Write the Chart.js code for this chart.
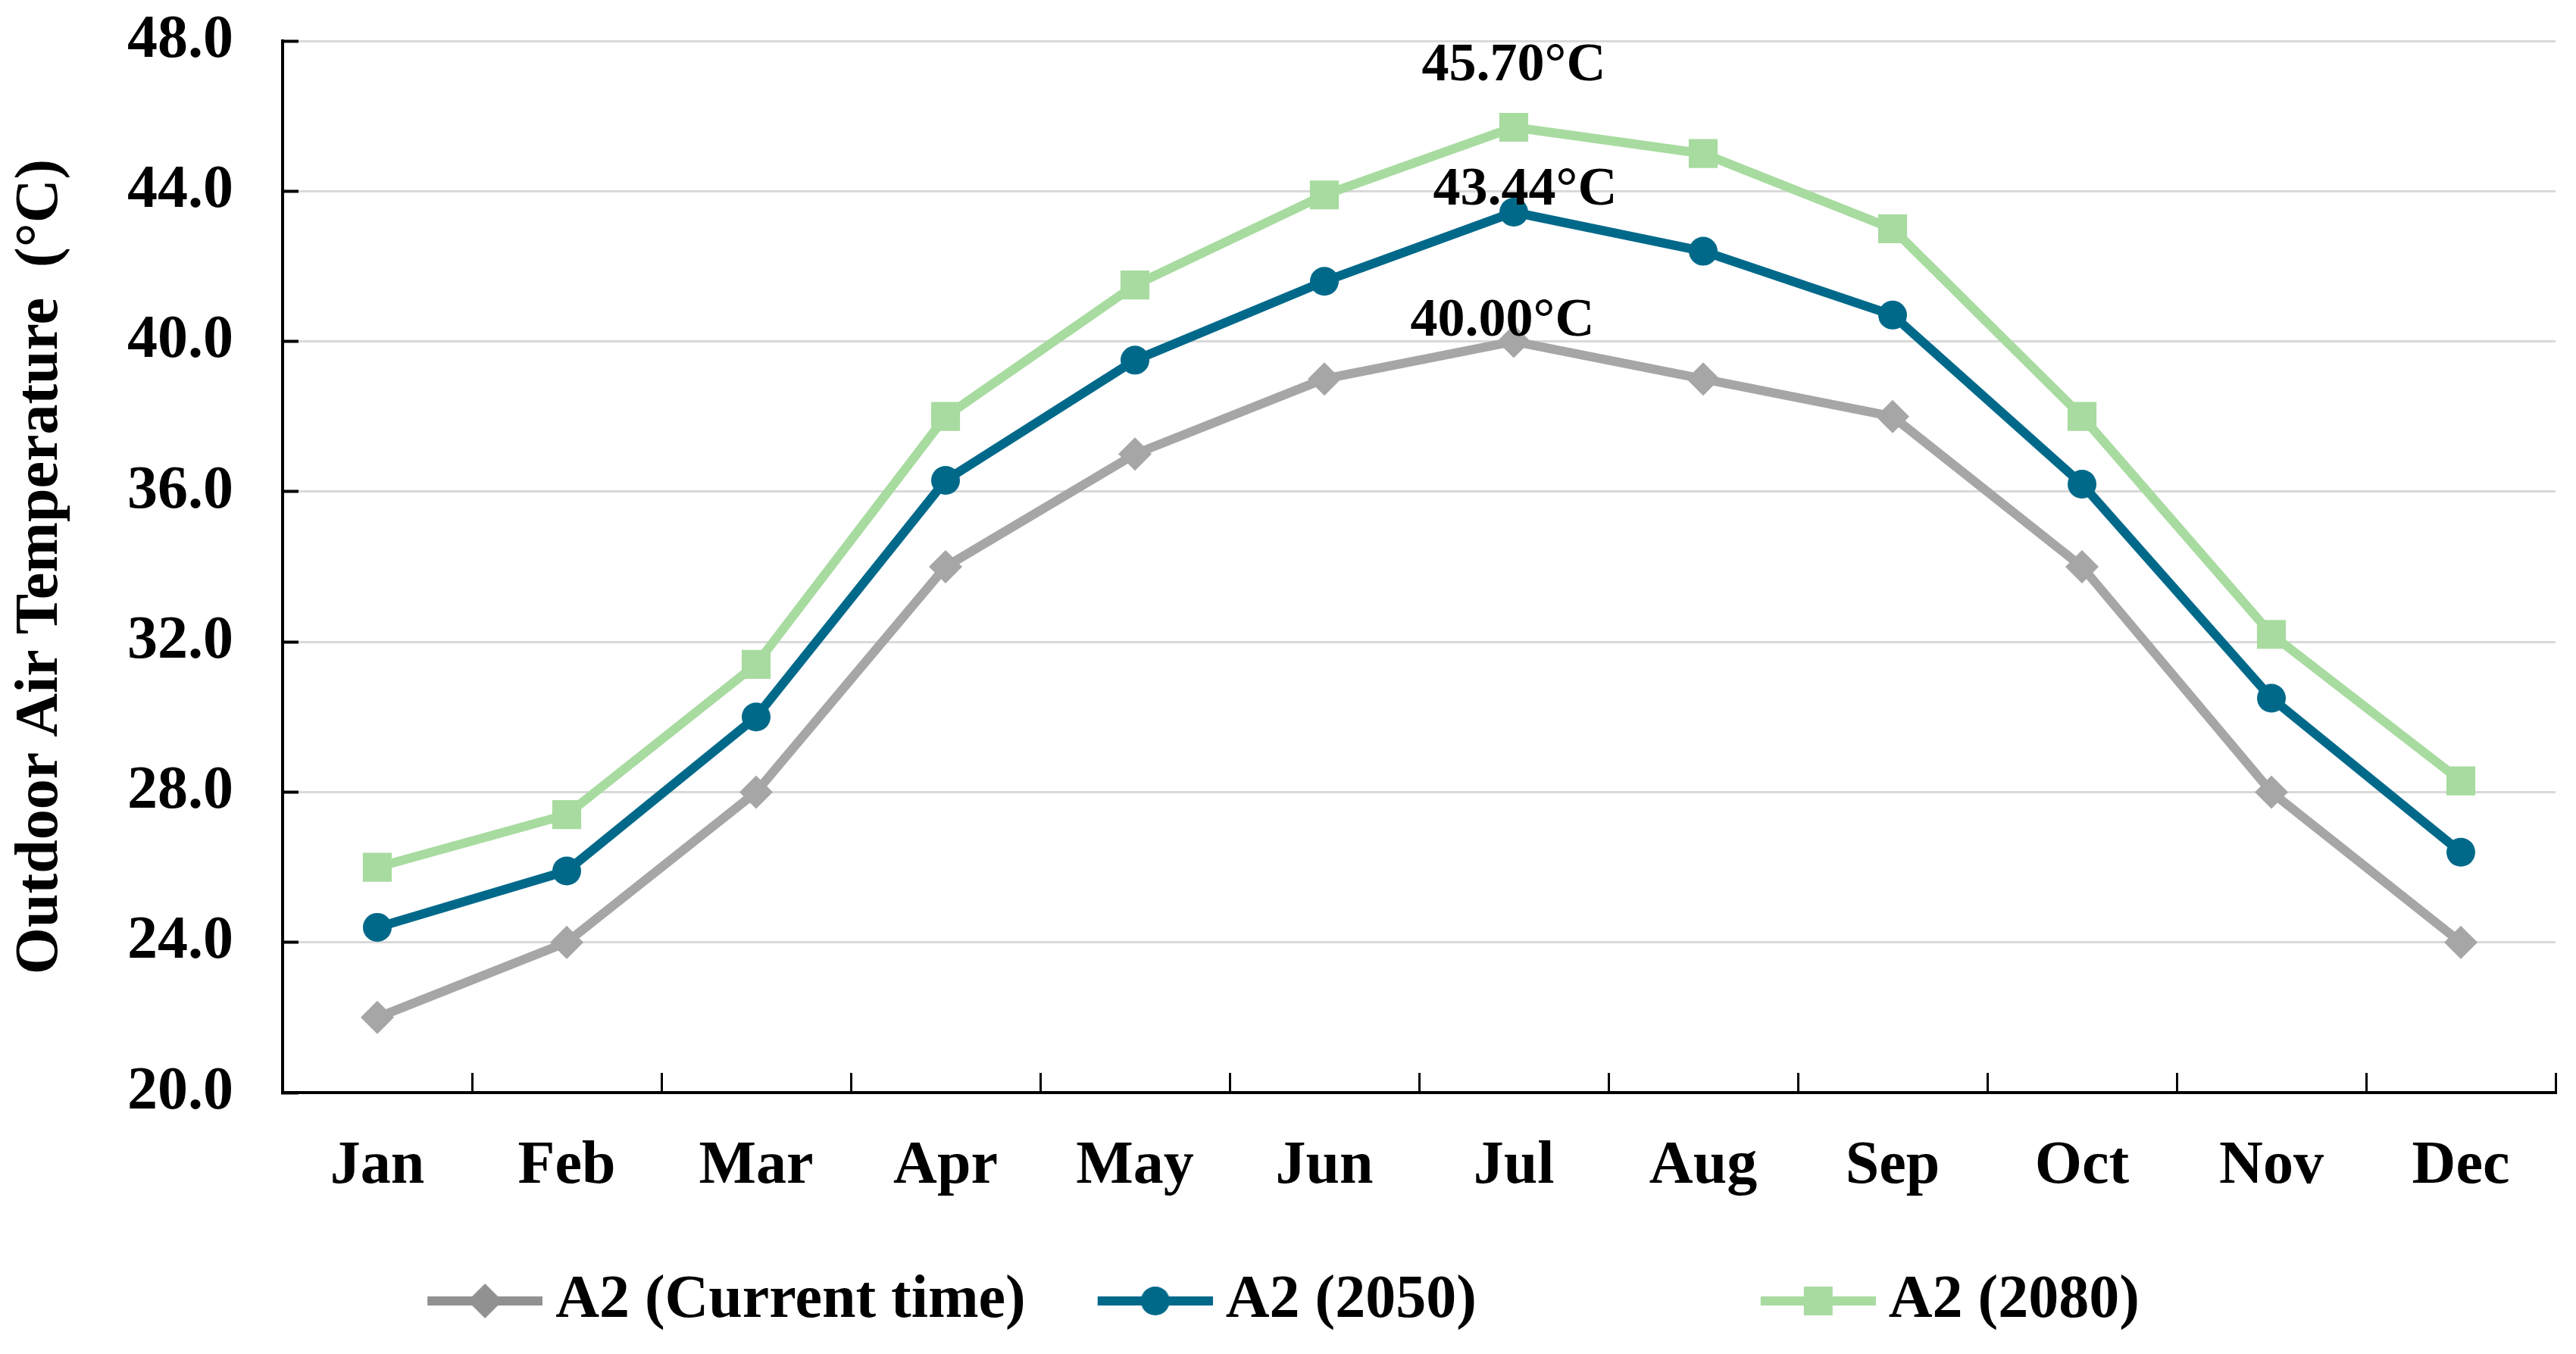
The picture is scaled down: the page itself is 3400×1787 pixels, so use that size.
<!DOCTYPE html>
<html>
<head>
<meta charset="utf-8">
<script src="https://cdn.jsdelivr.net/npm/chart.js@4.4.1/dist/chart.umd.min.js"></script>
<style>
  html, body { margin: 0; padding: 0; background: #fff; }
</style>
</head>
<body>
<canvas id="temp-chart-canvas" width="3400" height="1787"></canvas>
<script>
// Data
const months = ["Jan", "Feb", "Mar", "Apr", "May", "Jun", "Jul", "Aug", "Sep", "Oct", "Nov", "Dec"];
const currentTime = [22.0, 24.0, 28.0, 34.0, 37.0, 39.0, 40.0, 39.0, 38.0, 34.0, 28.0, 24.0];
const a2050 = [24.4, 25.9, 30.0, 36.3, 39.5, 41.6, 43.44, 42.4, 40.7, 36.2, 30.5, 26.4];
const a2080 = [26.0, 27.4, 31.4, 38.0, 41.5, 43.9, 45.7, 45.0, 43.0, 38.0, 32.2, 28.3];
const seriesNames = ["A2 (Current time)", "A2 (2050)", "A2 (2080)"];
const peakLabels = ["40.00°C", "43.44°C", "45.70°C"];
const yTicks = [20, 24, 28, 32, 36, 40, 44, 48];

const FONT = "'Liberation Serif', 'Times New Roman', serif";
const GRAY = "#a6a6a6";
const BLUE = "#00698a";
const GREEN = "#a8dba0";

// legend icon: short line with the marker in the middle
// (blank strip on the left so the gap before each item matches the original)
function legendIcon(color, style) {
  const m = 33;
  const c = document.createElement("canvas");
  c.width = 152 + m;
  c.height = 54;
  const ctx = c.getContext("2d");
  const cx = m + 76, cy = 27;
  ctx.strokeStyle = color;
  ctx.fillStyle = color;
  ctx.lineWidth = 12;
  ctx.beginPath();
  ctx.moveTo(m, cy);
  ctx.lineTo(m + 152, cy);
  ctx.stroke();
  ctx.beginPath();
  if (style === "diamond") {
    ctx.moveTo(cx, cy - 23); ctx.lineTo(cx + 23, cy); ctx.lineTo(cx, cy + 23); ctx.lineTo(cx - 23, cy);
    ctx.closePath();
  } else if (style === "circle") {
    ctx.arc(cx, cy, 19, 0, Math.PI * 2);
  } else {
    ctx.rect(cx - 19, cy - 19, 38, 38);
  }
  ctx.fill();
  return c;
}

const icons = [
  legendIcon("#919191", "diamond"),
  legendIcon(BLUE, "circle"),
  legendIcon(GREEN, "square"),
];

// peak value labels at July
const peakLabelPlugin = {
  id: "peakLabels",
  afterDatasetsDraw(chart, args, opts) {
    const ctx = chart.ctx;
    ctx.save();
    ctx.font = "bold 72px " + FONT;
    ctx.fillStyle = "#000";
    ctx.textAlign = "center";
    ctx.textBaseline = "middle";
    chart.data.datasets.forEach((ds, i) => {
      const pt = chart.getDatasetMeta(i).data[opts.index];
      const off = opts.offsets[i];
      ctx.fillText(peakLabels[i], pt.x + off[0], pt.y + off[1]);
    });
    ctx.restore();
  },
};

const tickFont = { family: FONT, size: 80, weight: "bold" };

function noPad(axis) {
  axis.paddingTop = 0;
  axis.paddingBottom = 0;
  axis.paddingLeft = 0;
  axis.paddingRight = 0;
}

new Chart(document.getElementById("temp-chart-canvas"), {
  type: "line",
  data: {
    labels: months,
    datasets: [
      {
        label: seriesNames[0],
        data: currentTime,
        borderColor: GRAY,
        backgroundColor: GRAY,
        borderWidth: 12,
        pointStyle: "rectRot",
        pointRadius: 22,
        pointBorderWidth: 0,
      },
      {
        label: seriesNames[1],
        data: a2050,
        borderColor: BLUE,
        backgroundColor: BLUE,
        borderWidth: 12,
        pointStyle: "circle",
        pointRadius: 19,
        pointBorderWidth: 0,
      },
      {
        label: seriesNames[2],
        data: a2080,
        borderColor: GREEN,
        backgroundColor: GREEN,
        borderWidth: 12,
        pointStyle: "rect",
        pointRadius: 27,
        pointBorderWidth: 0,
      },
    ],
  },
  plugins: [peakLabelPlugin],
  options: {
    responsive: false,
    devicePixelRatio: 1,
    animation: false,
    layout: { padding: { top: 54, right: 22, bottom: 20, left: 0 } },
    scales: {
      x: {
        offset: true,
        grid: {
          offset: true,
          drawOnChartArea: false,
          drawTicks: true,
          tickLength: -26,
          tickColor: "#000",
          tickWidth: 3,
          color: "#000",
        },
        border: { color: "#000", width: 4 },
        ticks: { font: tickFont, color: "#000", padding: 76, maxRotation: 0, autoSkip: false },
        afterFit: (axis) => { axis.height = 150; noPad(axis); },
      },
      y: {
        min: 20,
        max: 48,
        afterBuildTicks: (axis) => { axis.ticks = yTicks.map((v) => ({ value: v })); },
        ticks: { font: tickFont, color: "#000", padding: 86, callback: (v) => Number(v).toFixed(1) },
        grid: { color: "#d9d9d9", lineWidth: 3, tickColor: "#000", tickWidth: 4, tickLength: -21 },
        border: { color: "#000", width: 4 },
        title: {
          display: true,
          text: "Outdoor Air Temperature  (°C)",
          font: { family: FONT, size: 80, weight: "bold" },
          color: "#000",
          padding: { top: 6, bottom: 0 },
        },
        afterFit: (axis) => { axis.width = 373; noPad(axis); },
      },
    },
    plugins: {
      legend: {
        position: "bottom",
        labels: {
          usePointStyle: true,
          pointStyleWidth: 139,
          padding: 85,
          color: "#000",
          font: { family: FONT, size: 80, weight: "bold" },
          generateLabels: (chart) =>
            chart.data.datasets.map((ds, i) => ({
              text: i === 1 ? ds.label + " ".repeat(14) : ds.label,
              pointStyle: icons[i],
              fillStyle: ds.borderColor,
              strokeStyle: ds.borderColor,
              lineWidth: 0,
              hidden: false,
              datasetIndex: i,
            })),
        },
      },
      tooltip: { enabled: false },
      peakLabels: {
        index: 6,
        offsets: [[-15, -26], [15, -29], [0, -81]],
      },
    },
  },
});
</script>
</body>
</html>
